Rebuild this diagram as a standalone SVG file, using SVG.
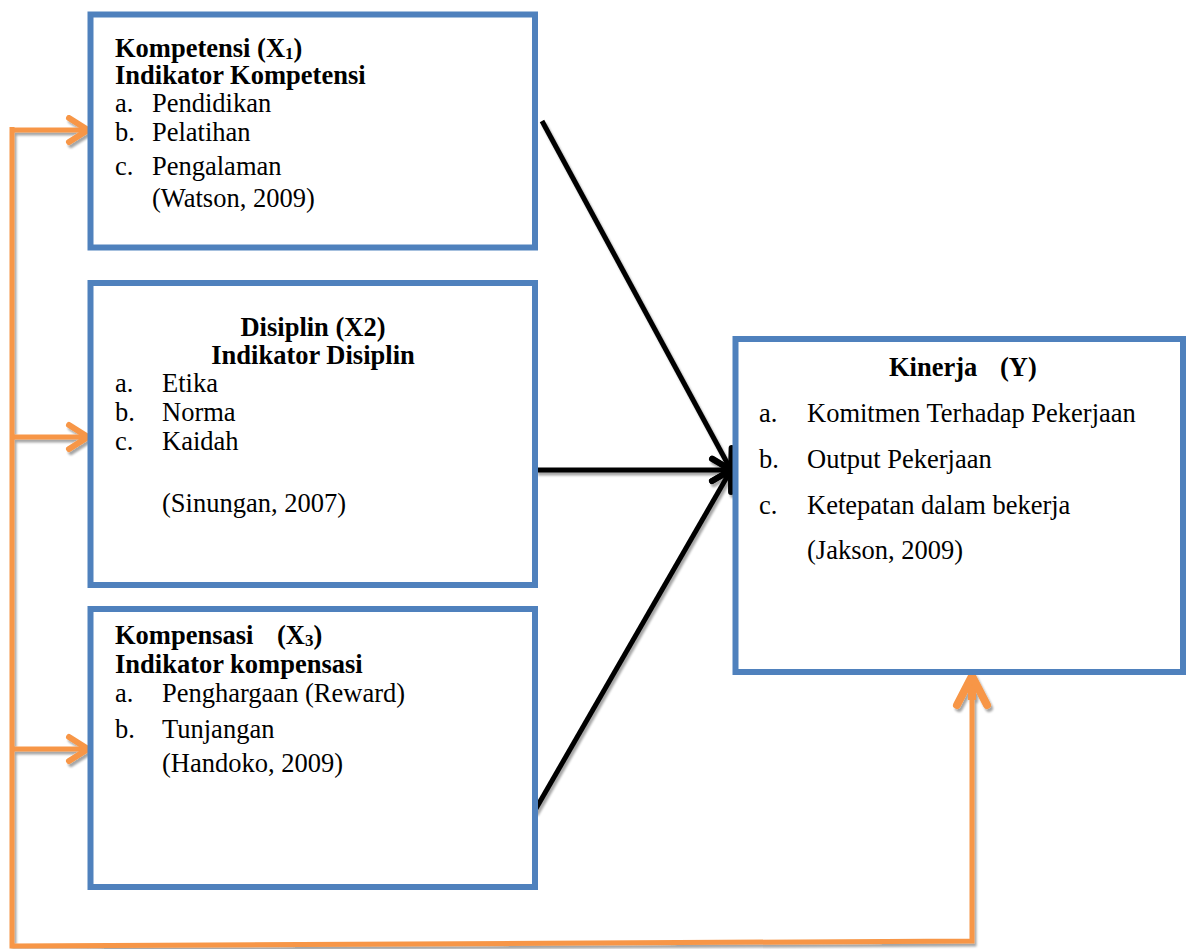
<svg xmlns="http://www.w3.org/2000/svg" width="1188" height="949" viewBox="0 0 1188 949">
<style>
  .box { fill: #ffffff; stroke: #4F81BD; stroke-width: 6; }
  text { font-family: "Liberation Serif", "Times New Roman", serif; font-size: 26.5px; fill: #000000; }
  .b { font-weight: bold; }
  .mid { text-anchor: middle; }
  .sub { font-size: 17px; }
  .blk { stroke: #000000; stroke-width: 5; fill: none; }
  .org { stroke: #F79646; fill: none; stroke-linejoin: miter; }
</style>
<defs>
  <filter id="shadow" x="-10%" y="-10%" width="130%" height="130%">
    <feDropShadow dx="2" dy="3" stdDeviation="1" flood-color="#000000" flood-opacity="0.35"/>
  </filter>
  <marker id="blackHead" markerUnits="userSpaceOnUse" viewBox="-25 -15 30 30" refX="0" refY="0" markerWidth="30" markerHeight="30" orient="auto" overflow="visible">
    <path d="M -19 -11 L 0 0 L -19 11" fill="none" stroke="#000000" stroke-width="6" stroke-linecap="round" stroke-linejoin="round"/>
  </marker>
  <marker id="orangeHead" markerUnits="userSpaceOnUse" viewBox="-25 -15 30 30" refX="0" refY="0" markerWidth="30" markerHeight="30" orient="auto" overflow="visible">
    <path d="M -19 -12 L 0 0 L -19 12" fill="none" stroke="#F79646" stroke-width="6" stroke-linecap="round" stroke-linejoin="round"/>
  </marker>
  <marker id="orangeHeadBig" markerUnits="userSpaceOnUse" viewBox="-35 -20 40 40" refX="0" refY="0" markerWidth="40" markerHeight="40" orient="auto" overflow="visible">
    <path d="M -29 -15 L 0 0 L -29 15" fill="none" stroke="#F79646" stroke-width="8" stroke-linecap="round" stroke-linejoin="round"/>
  </marker>
</defs>

<g id="connectors" filter="url(#shadow)">
  <path class="org" stroke-width="5" d="M 12 127 L 12 946 L 972 941 L 972 680"/>
  <path class="org" stroke-width="8" d="M 972 700 L 972 676" marker-end="url(#orangeHeadBig)"/>
  <line class="org" stroke-width="5" x1="10" y1="130" x2="88" y2="130" marker-end="url(#orangeHead)"/>
  <line class="org" stroke-width="5" x1="12" y1="437" x2="88" y2="437" marker-end="url(#orangeHead)"/>
  <line class="org" stroke-width="5" x1="12" y1="749" x2="88" y2="749" marker-end="url(#orangeHead)"/>
  <line class="blk" x1="542" y1="121" x2="731" y2="470" marker-end="url(#blackHead)"/>
  <line class="blk" x1="536" y1="470" x2="731" y2="470" marker-end="url(#blackHead)"/>
  <line class="blk" x1="534" y1="812" x2="731" y2="470" marker-end="url(#blackHead)"/>
</g>

<g id="node-kompetensi">
  <rect class="box" x="90.5" y="14.5" width="444.5" height="233"/>
  <text class="b" x="115" y="57">Kompetensi (X<tspan class="sub" dy="2">1</tspan><tspan dy="-2">)</tspan></text>
  <text class="b" x="115" y="84">Indikator Kompetensi</text>
  <text x="115" y="112">a.</text><text x="152" y="112">Pendidikan</text>
  <text x="115" y="141">b.</text><text x="152" y="141">Pelatihan</text>
  <text x="115" y="175">c.</text><text x="152" y="175">Pengalaman</text>
  <text x="152" y="207">(Watson, 2009)</text>
</g>

<g id="node-disiplin">
  <rect class="box" x="90.5" y="283" width="444.5" height="302"/>
  <text class="b mid" x="313" y="336">Disiplin (X2)</text>
  <text class="b mid" x="313" y="364">Indikator Disiplin</text>
  <text x="115" y="392">a.</text><text x="162" y="392">Etika</text>
  <text x="115" y="421">b.</text><text x="162" y="421">Norma</text>
  <text x="115" y="450">c.</text><text x="162" y="450">Kaidah</text>
  <text x="162" y="512">(Sinungan, 2007)</text>
</g>

<g id="node-kompensasi">
  <rect class="box" x="90.5" y="609" width="444.5" height="278"/>
  <text class="b" x="115" y="644">Kompensasi<tspan x="277">(X</tspan><tspan class="sub" dy="2">3</tspan><tspan dy="-2">)</tspan></text>
  <text class="b" x="115" y="673">Indikator kompensasi</text>
  <text x="115" y="702">a.</text><text x="162" y="702">Penghargaan (Reward)</text>
  <text x="115" y="738">b.</text><text x="162" y="738">Tunjangan</text>
  <text x="162" y="772">(Handoko, 2009)</text>
</g>

<g id="node-kinerja">
  <rect class="box" x="735.5" y="339" width="447.5" height="333"/>
  <text class="b" x="889" y="376">Kinerja<tspan x="1000">(Y)</tspan></text>
  <text x="759" y="422">a.</text><text x="807" y="422">Komitmen Terhadap Pekerjaan</text>
  <text x="759" y="468">b.</text><text x="807" y="468">Output Pekerjaan</text>
  <text x="759" y="514">c.</text><text x="807" y="514">Ketepatan dalam bekerja</text>
  <text x="807" y="559">(Jakson, 2009)</text>
</g>
</svg>
